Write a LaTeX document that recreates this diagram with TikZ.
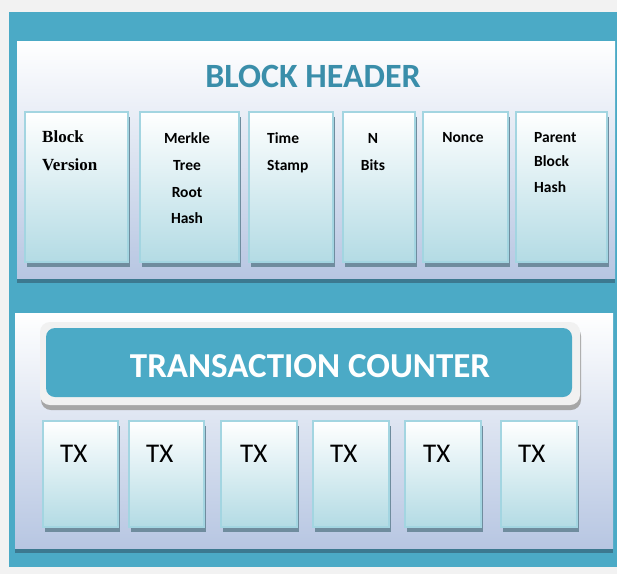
\documentclass[tikz,border=0pt]{standalone}
\usepackage{fontspec}
\setmainfont{Carlito}
\newfontfamily\bvfont{Liberation Serif}
\definecolor{bgc}{HTML}{F2F2F2}
\definecolor{tealc}{HTML}{4BAAC6}
\definecolor{titlec}{HTML}{3A8EAA}
\definecolor{panelbot}{HTML}{B7C6E2}
\definecolor{boxbot}{HTML}{B3DBE4}
\definecolor{boxedge}{HTML}{A3D5E1}
\definecolor{shd}{HTML}{6F8C9E}
\definecolor{pshd}{HTML}{3C7990}
\definecolor{bannerc}{HTML}{F1F1F1}
\begin{document}
\begin{tikzpicture}[x=1pt,y=-1pt,
  panel/.style={shade, top color=white, bottom color=panelbot, inner sep=0, outer sep=0,
    anchor=north west, preaction={fill=pshd, transform canvas={yshift=-5pt}}},
  fieldbox/.style={shade, top color=white, bottom color=boxbot, draw=boxedge, line width=1.2pt,
    inner sep=0, outer sep=0, anchor=north west,
    preaction={fill=shd, transform canvas={xshift=1.5pt,yshift=-5pt}}},
  lbl/.style={font=\fontsize{15.5}{18}\selectfont\bfseries, anchor=base, inner sep=0},
  lbll/.style={lbl, anchor=base west},
  txlbl/.style={font=\fontsize{27}{30}\selectfont, anchor=base west, inner sep=0}]
\fill[bgc] (0,0) rectangle (617,574);
\useasboundingbox (0,0) rectangle (617,574);
\fill[tealc] (9,12) rectangle (617,567);
% panels
\node[panel, minimum width=598pt, minimum height=237pt] (hdr) at (17,41) {};
\node[panel, minimum width=598pt, minimum height=235pt] (body) at (15,313) {};
% title
\node[font=\fontsize{34}{36}\selectfont\bfseries, text=titlec, anchor=base, inner sep=0] (title) at (313,87) {BLOCK HEADER};
% header fields
\node[fieldbox, minimum width=103pt, minimum height=150pt] (f1) at (25,112) {};
\node[fieldbox, minimum width=99pt, minimum height=150pt] (f2) at (140,112) {};
\node[fieldbox, minimum width=84pt, minimum height=150pt] (f3) at (249,112) {};
\node[fieldbox, minimum width=72pt, minimum height=150pt] (f4) at (343,112) {};
\node[fieldbox, minimum width=85pt, minimum height=150pt] (f5) at (423,112) {};
\node[fieldbox, minimum width=91pt, minimum height=150pt] (f6) at (516,112) {};
% field labels
\node[lbll, font=\fontsize{17}{20}\selectfont\bvfont\bfseries] (bv1) at (42,142) {Block};
\node[lbll, font=\fontsize{17}{20}\selectfont\bvfont\bfseries] (bv2) at (42,170) {Version};
\node[lbl] (mk1) at (187,143) {Merkle};
\node[lbl] (mk2) at (187,170) {Tree};
\node[lbl] (mk3) at (187,197) {Root};
\node[lbl] (mk4) at (187,223) {Hash};
\node[lbll] (ts1) at (267,143) {Time};
\node[lbll] (ts2) at (267,170) {Stamp};
\node[lbl] (nb1) at (373,143) {N};
\node[lbl] (nb2) at (373,170) {Bits};
\node[lbl] (nc1) at (463,142) {Nonce};
\node[lbll] (pb1) at (534,142) {Parent};
\node[lbll] (pb2) at (534,166) {Block};
\node[lbll] (pb3) at (534,192) {Hash};
% transaction counter banner
\fill[black!35, rounded corners=10pt] (41,326) rectangle (581,410);
\node[fill=bannerc, rounded corners=10pt, inner sep=0, outer sep=0, anchor=north west,
  minimum width=540pt, minimum height=83pt] (bannerout) at (40,322) {};
\node[fill=tealc, rounded corners=9pt, inner sep=0, outer sep=0, anchor=north west,
  minimum width=526pt, minimum height=69pt] (banner) at (46,328) {};
\node[font=\fontsize{35}{38}\selectfont\bfseries, text=white, anchor=base, inner sep=0] (tc) at (310,377) {TRANSACTION COUNTER};
% TX boxes
\node[fieldbox, minimum width=75pt, minimum height=106pt] (t1) at (43,421) {};
\node[fieldbox, minimum width=75pt, minimum height=106pt] (t2) at (129,421) {};
\node[fieldbox, minimum width=76pt, minimum height=106pt] (t3) at (221,421) {};
\node[fieldbox, minimum width=76pt, minimum height=106pt] (t4) at (313,421) {};
\node[fieldbox, minimum width=76pt, minimum height=106pt] (t5) at (405,421) {};
\node[fieldbox, minimum width=76pt, minimum height=106pt] (t6) at (501,421) {};
\node[txlbl] (x1) at (60,462) {TX};
\node[txlbl] (x2) at (146,462) {TX};
\node[txlbl] (x3) at (240,462) {TX};
\node[txlbl] (x4) at (330,462) {TX};
\node[txlbl] (x5) at (423,462) {TX};
\node[txlbl] (x6) at (518,462) {TX};
\end{tikzpicture}
\end{document}
